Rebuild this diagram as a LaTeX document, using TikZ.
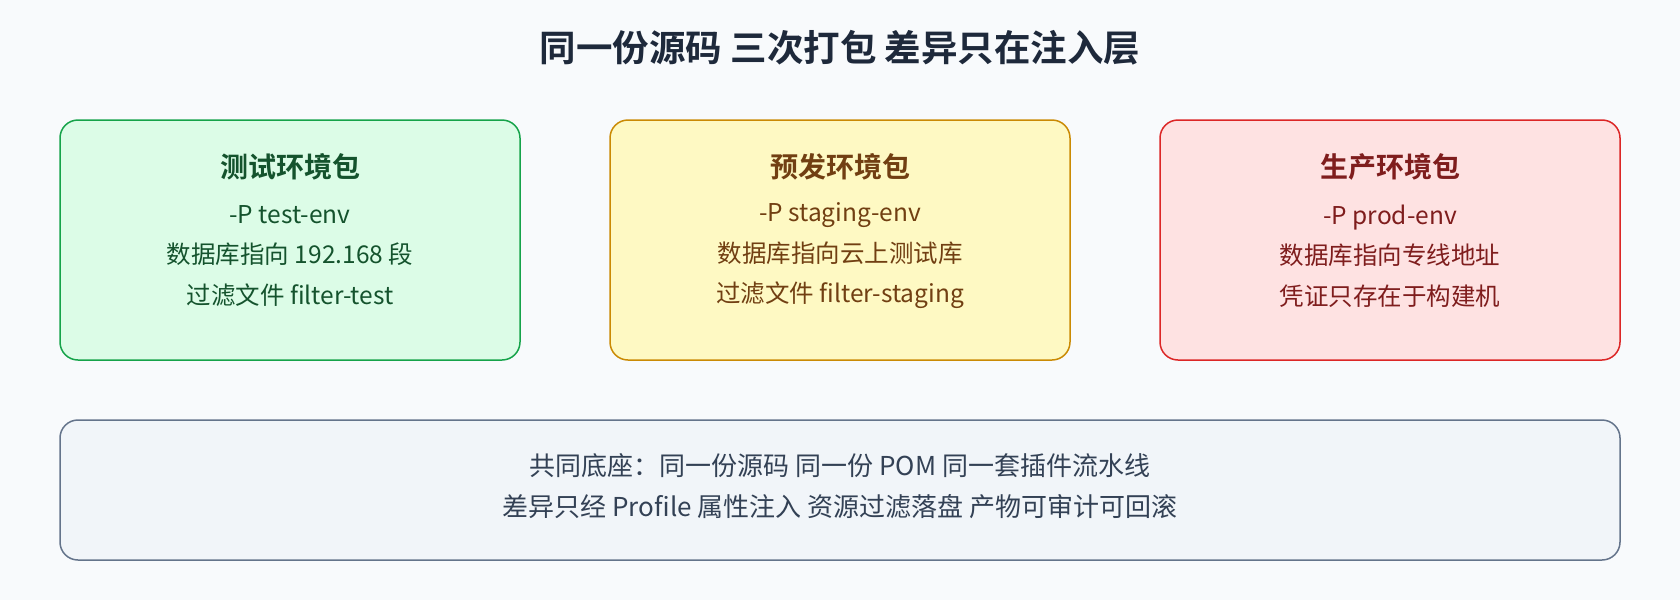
\documentclass[tikz,border=0pt]{standalone}
\usepackage{fontspec}
\setmainfont{Noto Sans CJK SC}[BoldFont={Noto Sans CJK SC Bold}]

\definecolor{bgcol}{HTML}{F8FAFC}
\definecolor{titlecol}{HTML}{1E293B}
\definecolor{testfill}{HTML}{DCFCE7}
\definecolor{testline}{HTML}{16A34A}
\definecolor{testtext}{HTML}{14532D}
\definecolor{stagfill}{HTML}{FEF9C3}
\definecolor{stagline}{HTML}{CA8A04}
\definecolor{stagtext}{HTML}{713F12}
\definecolor{prodfill}{HTML}{FEE2E2}
\definecolor{prodline}{HTML}{DC2626}
\definecolor{prodtext}{HTML}{7F1D1D}
\definecolor{basefill}{HTML}{F1F5F9}
\definecolor{baseline}{HTML}{64748B}
\definecolor{basetext}{HTML}{334155}

\tikzstyle{envbox} = [draw, line width=1.5pt, rounded corners=18pt, minimum width=460pt, minimum height=240pt]
\tikzstyle{basebox} = [draw=baseline, fill=basefill, line width=1.5pt, rounded corners=18pt, minimum width=1560pt, minimum height=140pt]
\tikzstyle{head} = [font=\fontsize{28}{32}\selectfont\bfseries]
\tikzstyle{body} = [align=center, font=\fontsize{24.5}{40.5}\selectfont]

\begin{document}
\begin{tikzpicture}[x=1pt,y=-1pt]
	\fill[bgcol] (0,0) rectangle (1680,600);
	\useasboundingbox (0,0) rectangle (1680,600);

	\node[font=\fontsize{36.5}{40}\selectfont\bfseries, text=titlecol] (title) at (840,48) {同一份源码 三次打包 差异只在注入层};

	% three packages
	\node[envbox, draw=testline, fill=testfill] (test) at (290,240) {};
	\node[envbox, draw=stagline, fill=stagfill] (stag) at (840,240) {};
	\node[envbox, draw=prodline, fill=prodfill] (prod) at (1390,240) {};

	\node[head, text=testtext] (testhead) at (290,167) {测试环境包};
	\node[body, text=testtext] (testbody) at (290,256) {-P test-env\\数据库指向 192.168 段\\过滤文件 filter-test};

	\node[head, text=stagtext] (staghead) at (840,167) {预发环境包};
	\node[body, text=stagtext] (stagbody) at (840,256) {-P staging-env\\数据库指向云上测试库\\过滤文件 filter-staging};

	\node[head, text=prodtext] (prodhead) at (1390,167) {生产环境包};
	\node[body, text=prodtext] (prodbody) at (1390,256) {-P prod-env\\数据库指向专线地址\\凭证只存在于构建机};

	% common base
	\node[basebox] (base) at (840,490) {};
	\node[body, text=basetext, font=\fontsize{26}{41}\selectfont] (basebody) at (840,486) {共同底座：同一份源码 同一份 POM 同一套插件流水线\\差异只经 Profile 属性注入 资源过滤落盘 产物可审计可回滚};
\end{tikzpicture}
\end{document}
